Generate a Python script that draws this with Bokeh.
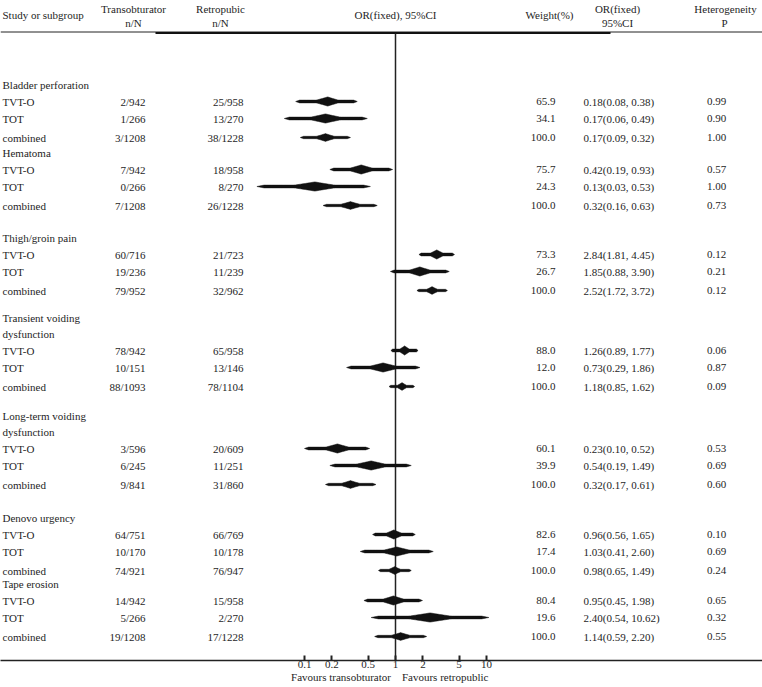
import math
from bokeh.plotting import figure
from bokeh.models import (Range1d, LogScale, LogAxis, FixedTicker,
                          CustomJSTickFormatter, ColumnDataSource)
from bokeh.core.properties import value
from bokeh.embed import file_html
from bokeh.resources import INLINE

# ---------------- data ----------------
groups = ["Bladder perforation", "Hematoma", "Thigh/groin pain",
          "Transient voiding\ndysfunction", "Long-term voiding\ndysfunction",
          "Denovo urgency", "Tape erosion"]
subgroups = ["TVT-O", "TOT", "combined"]
trans_n = [[2, 1, 3], [7, 0, 7], [60, 19, 79], [78, 10, 88], [3, 6, 9], [64, 10, 74], [14, 5, 19]]
trans_N = [[942, 266, 1208], [942, 266, 1208], [716, 236, 952], [942, 151, 1093],
           [596, 245, 841], [751, 170, 921], [942, 266, 1208]]
retro_n = [[25, 13, 38], [18, 8, 26], [21, 11, 32], [65, 13, 78], [20, 11, 31], [66, 10, 76], [15, 2, 17]]
retro_N = [[958, 270, 1228], [958, 270, 1228], [723, 239, 962], [958, 146, 1104],
           [609, 251, 860], [769, 178, 947], [958, 270, 1228]]
weight = [[65.9, 34.1, 100.0], [75.7, 24.3, 100.0], [73.3, 26.7, 100.0], [88.0, 12.0, 100.0],
          [60.1, 39.9, 100.0], [82.6, 17.4, 100.0], [80.4, 19.6, 100.0]]
odds = [[0.18, 0.17, 0.17], [0.42, 0.13, 0.32], [2.84, 1.85, 2.52], [1.26, 0.73, 1.18],
        [0.23, 0.54, 0.32], [0.96, 1.03, 0.98], [0.95, 2.40, 1.14]]
ci_low = [[0.08, 0.06, 0.09], [0.19, 0.03, 0.16], [1.81, 0.88, 1.72], [0.89, 0.29, 0.85],
          [0.10, 0.19, 0.17], [0.56, 0.41, 0.65], [0.45, 0.54, 0.59]]
ci_high = [[0.38, 0.49, 0.32], [0.93, 0.53, 0.63], [4.45, 3.90, 3.72], [1.77, 1.86, 1.62],
           [0.52, 1.49, 0.61], [1.65, 2.60, 1.49], [1.98, 10.62, 2.20]]
het_p = [[0.99, 0.90, 1.00], [0.57, 1.00, 0.73], [0.12, 0.21, 0.12], [0.06, 0.87, 0.09],
         [0.53, 0.69, 0.60], [0.10, 0.69, 0.24], [0.65, 0.32, 0.55]]
axis_ticks = [0.1, 0.2, 0.5, 1, 2, 5, 10]
axis_label_text = "Favours transobturator    Favours retropublic"

# ---------------- layout ----------------
W, H = 762, 687
PANEL = 27                      # space below the axis line
BOTTOM = H - PANEL              # axis line position (page px)
title_y = [84, 152, 237, 317, 415, 517, 583]
line_gap = 16
row_offsets = [17, 34, 53]
FONT = "Liberation Serif"
FS = "11px"
TXT = "#1e1e1e"
X_LABEL, X_TRANS, X_RETRO, X_WEIGHT, X_OR, X_HET = 2, 145, 243, 555, 583, 716
ONE_X, DEC = 395.0, 91.0        # page x of OR=1, px per decade
or_lo = 10 ** ((0 - ONE_X) / DEC)
or_hi = 10 ** ((W - ONE_X) / DEC)

p = figure(width=W, height=H, output_backend="svg", toolbar_location=None,
           x_range=Range1d(0, W), y_range=Range1d(BOTTOM, 0),
           x_axis_location=None, y_axis_location=None,
           min_border_left=0, min_border_right=0, min_border_top=0,
           min_border_bottom=PANEL)
p.outline_line_color = None
p.grid.visible = False
p.background_fill_color = "white"
p.border_fill_color = "white"
p.extra_x_ranges = {"or": Range1d(or_lo, or_hi)}
p.extra_x_scales = {"or": LogScale()}


def profile(t):
    thin = 0.3 * min(1.0, t / 0.12)
    bulge = ((t - 0.4) / 0.6) ** 1.3 if t > 0.4 else 0.0
    return max(thin, bulge)


# ---- build rows ----
left_t = dict(x=[], y=[], t=[])
right_t = dict(x=[], y=[], t=[])
center_t = dict(x=[], y=[], t=[])
dx, dy = [], []
for g, name in enumerate(groups):
    lines = name.split("\n")
    y0 = title_y[g]
    for k, ln in enumerate(lines):
        left_t["x"].append(X_LABEL); left_t["y"].append(y0 + k * line_gap); left_t["t"].append(ln)
    ylast = y0 + (len(lines) - 1) * line_gap
    for i, sg in enumerate(subgroups):
        y = ylast + row_offsets[i]
        left_t["x"].append(X_LABEL); left_t["y"].append(y); left_t["t"].append(sg)
        right_t["x"] += [X_TRANS, X_RETRO, X_WEIGHT]
        right_t["y"] += [y, y, y]
        right_t["t"] += [f"{trans_n[g][i]}/{trans_N[g][i]}",
                         f"{retro_n[g][i]}/{retro_N[g][i]}",
                         f"{weight[g][i]:.1f}"]
        left_t["x"].append(X_OR); left_t["y"].append(y)
        left_t["t"].append(f"{odds[g][i]:.2f}({ci_low[g][i]:.2f}, {ci_high[g][i]:.2f})")
        center_t["x"].append(X_HET); center_t["y"].append(y)
        center_t["t"].append(f"{het_p[g][i]:.2f}")
        # tapered diamond spanning the confidence interval
        lo, c, hi = math.log10(ci_low[g][i]), math.log10(odds[g][i]), math.log10(ci_high[g][i])
        h = 3.9 if i == 2 else 4.6
        n = 24
        xs_top, ys_top = [], []
        for j in range(n + 1):
            t = j / n
            xs_top.append(10 ** (lo + (c - lo) * t)); ys_top.append(y - h * profile(t))
        for j in range(1, n + 1):
            t = 1 - j / n
            xs_top.append(10 ** (c + (hi - c) * (j / n))); ys_top.append(y - h * profile(t))
        xs_bot = xs_top[::-1][1:-1]
        ys_bot = [2 * y - v for v in ys_top[::-1][1:-1]]
        dx.append(xs_top + xs_bot)
        dy.append(ys_top + ys_bot)

# headers
hdr_c = dict(x=[133, 133, 220, 220, 395, 549, 617, 617, 725, 724],
             y=[8, 22, 8, 22, 14, 14, 8, 22, 8, 22],
             t=["Transobturator", "n/N", "Retropubic", "n/N", "OR(fixed), 95%CI",
                "Weight(%)", "OR(fixed)", "95%CI", "Heterogeneity", "P"])
left_t["x"].append(X_LABEL); left_t["y"].append(14); left_t["t"].append("Study or subgroup")

common = dict(text="t", text_font=value(FONT), text_font_size=FS,
              text_color=TXT, text_baseline="middle")
p.text(x="x", y="y", source=ColumnDataSource(left_t), text_align="left", **common)
p.text(x="x", y="y", source=ColumnDataSource(right_t), text_align="right", **common)
p.text(x="x", y="y", source=ColumnDataSource(center_t), text_align="center", **common)
p.text(x="x", y="y", source=ColumnDataSource(hdr_c), text_align="center", **common)

# header rules
p.segment(x0=[0], y0=[31.5], x1=[W], y1=[31.5], line_color="#222222", line_width=1)
p.segment(x0=[155], y0=[32.5], x1=[610], y1=[32.5], line_color="#111111", line_width=2)

# vertical line at OR = 1
p.segment(x0=[1], y0=[33], x1=[1], y1=[BOTTOM], x_range_name="or",
          line_color="#222222", line_width=1.5)

# diamonds
p.patches(xs=dx, ys=dy, x_range_name="or", fill_color="#111111", line_color="#111111",
          line_width=0.5)

ax = LogAxis(x_range_name="or",
             ticker=FixedTicker(ticks=axis_ticks, minor_ticks=[]),
             formatter=CustomJSTickFormatter(code="return tick.toString()"))
ax.axis_line_width = 1.5
ax.axis_line_color = "#222222"
ax.major_tick_in = 5
ax.major_tick_out = 0
ax.major_tick_line_width = 2
ax.major_tick_line_color = "#222222"
ax.minor_tick_in = 0
ax.minor_tick_out = 0
ax.major_label_standoff = 0
ax.major_label_text_font = FONT
ax.major_label_text_font_size = FS
ax.major_label_text_color = TXT
ax.major_label_text_line_height = 1.0
ax.axis_label = "\u00a0" * 6 + axis_label_text.replace("    ", "\u00a0" * 4)
ax.axis_label_standoff = 0
ax.axis_label_text_font = FONT
ax.axis_label_text_font_size = FS
ax.axis_label_text_font_style = "normal"
ax.axis_label_text_color = TXT
ax.axis_label_text_line_height = 1.0
p.add_layout(ax, "below")

open("out.html", "w").write(file_html(p, INLINE))
